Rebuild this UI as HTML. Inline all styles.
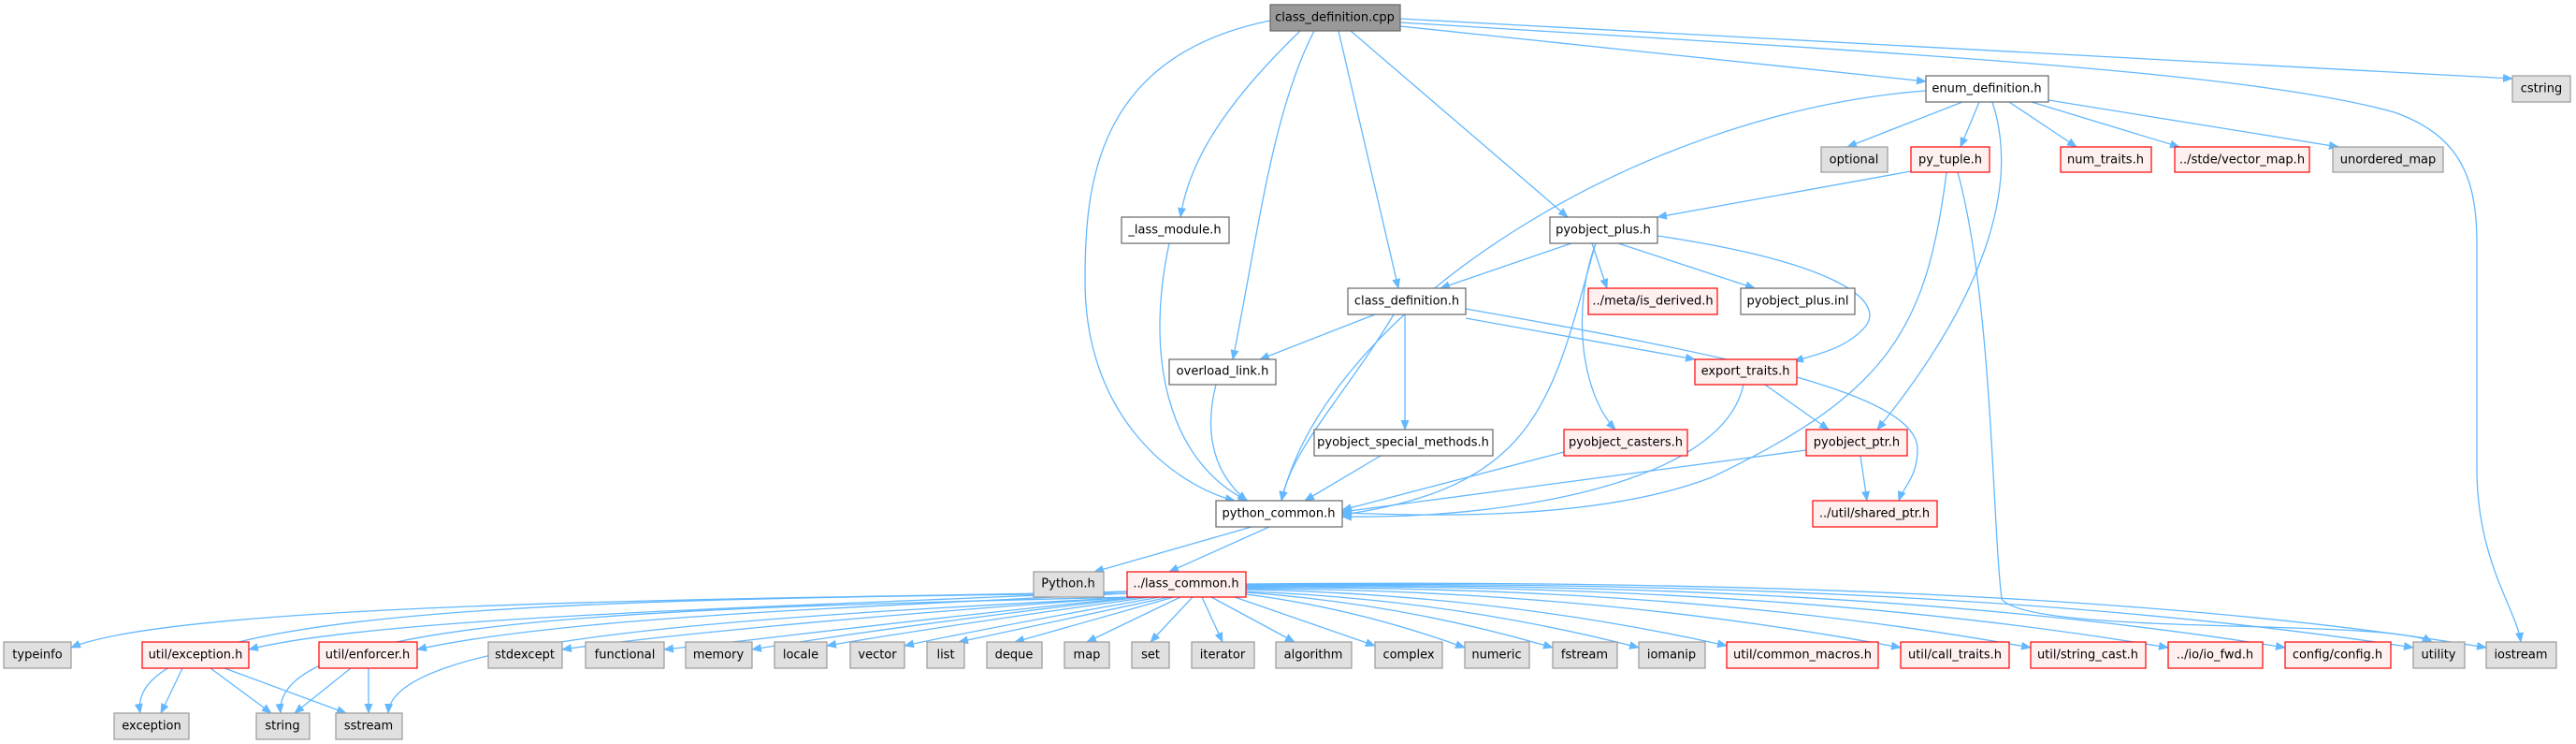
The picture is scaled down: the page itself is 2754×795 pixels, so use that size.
<!DOCTYPE html>
<html><head><meta charset="utf-8"><style>
html,body{margin:0;padding:0;background:#fff;}
svg{display:block;}
text{font-family:"DejaVu Sans","Liberation Sans",sans-serif;font-size:13px;fill:#000;text-anchor:middle;dominant-baseline:central;}
.e{fill:none;stroke:#63b8ff;stroke-width:1.3;marker-end:url(#a);}
.w{fill:#fff;stroke:#666;stroke-width:1.2;}
.g{fill:#e0e0e0;stroke:#999;stroke-width:1.2;}
.r{fill:#fff0f0;stroke:#ff0000;stroke-width:1.2;}
.k{fill:#999;stroke:#666;stroke-width:1.2;}
</style></head><body>
<svg width="2754" height="795" viewBox="0 0 2754 795" xmlns="http://www.w3.org/2000/svg">
<defs><marker id="a" markerWidth="11" markerHeight="9" refX="10" refY="4.5" orient="auto" markerUnits="userSpaceOnUse"><path d="M0,0 L11,4.5 L0,9 z" fill="#63b8ff"/></marker></defs>
<g>
<path class="e" d="M1358,22 C1170,60 1160,200 1160,300 C1160,450 1260,520 1320,535"/>
<path class="e" d="M1390,33 C1300,120 1270,180 1262,232"/>
<path class="e" d="M1405,33 C1360,120 1345,250 1318,384"/>
<path class="e" d="M1431,33 L1495,308"/>
<path class="e" d="M1444,33 L1676,232"/>
<path class="e" d="M1497,28 L2059,87"/>
<path class="e" d="M1497,20 L2686,84"/>
<path class="e" d="M1497,24 C2000,55 2400,75 2560,120 C2630,145 2648,190 2648,260 L2648,500 C2648,600 2690,650 2695,686"/>
<path class="e" d="M2059,97 C1750,120 1420,330 1370,535"/>
<path class="e" d="M2098,109 L1975,157"/>
<path class="e" d="M2116,109 L2096,157"/>
<path class="e" d="M2148,109 L2220,157"/>
<path class="e" d="M2172,109 L2330,157"/>
<path class="e" d="M2190,107 L2500,157"/>
<path class="e" d="M2130,109 C2160,200 2120,320 2007,459"/>
<path class="e" d="M2043,183 L1772,232"/>
<path class="e" d="M2081,184 C2060,350 2020,420 1830,510 C1700,560 1500,550 1435,548"/>
<path class="e" d="M2093,184 C2130,320 2130,560 2140,640 C2170,680 2550,660 2600,686"/>
<path class="e" d="M1680,260 L1540,308"/>
<path class="e" d="M1702,260 L1718,308"/>
<path class="e" d="M1730,260 L1876,308"/>
<path class="e" d="M1772,252 C1960,280 2015,320 1995,348 C1975,372 1945,378 1918,386"/>
<path class="e" d="M1706,260 C1680,330 1690,420 1727,459"/>
<path class="e" d="M1706,260 C1660,420 1650,520 1435,550"/>
<path class="e" d="M1250,260 C1220,400 1260,500 1334,535"/>
<path class="e" d="M1470,336 L1347,384"/>
<path class="e" d="M1490,336 C1440,420 1380,480 1370,535"/>
<path class="e" d="M1502,336 L1502,459"/>
<path class="e" d="M1567,340 L1812,384"/>
<path class="e" d="M1567,330 C1850,380 2050,420 2050,480 C2050,510 2035,520 2030,535"/>
<path class="e" d="M1300,411 C1290,450 1290,500 1333,535"/>
<path class="e" d="M1864,411 C1840,520 1600,555 1435,552"/>
<path class="e" d="M1887,411 L1955,459"/>
<path class="e" d="M1476,487 L1395,535"/>
<path class="e" d="M1672,483 L1435,545"/>
<path class="e" d="M1931,481 L1435,547"/>
<path class="e" d="M1989,487 L1996,535"/>
<path class="e" d="M1338,563 L1170,611"/>
<path class="e" d="M1357,563 L1250,611"/>
<path class="e" d="M1205,632 C900,640 200,640 76,692"/>
<path class="e" d="M1205,634 C600,640 130,650 150,762"/>
<path class="e" d="M1205,632 C800,650 400,660 266,694"/>
<path class="e" d="M1205,634 C900,650 600,660 446,694"/>
<path class="e" d="M1210,638 C700,650 290,660 300,762"/>
<path class="e" d="M1215,638 C800,660 420,680 415,762"/>
<path class="e" d="M1210,638 C900,660 700,680 601,694"/>
<path class="e" d="M1215,638 C950,665 800,685 710,694"/>
<path class="e" d="M1220,638 Q950,670 804,694"/>
<path class="e" d="M1230,638 Q1000,670 884,690"/>
<path class="e" d="M1240,638 Q1060,670 967,690"/>
<path class="e" d="M1250,638 L1025,686"/>
<path class="e" d="M1255,638 L1085,686"/>
<path class="e" d="M1262,638 L1162,686"/>
<path class="e" d="M1275,638 L1230,686"/>
<path class="e" d="M1285,638 L1307,686"/>
<path class="e" d="M1295,638 L1384,686"/>
<path class="e" d="M1320,638 L1470,690"/>
<path class="e" d="M1332,635 Q1450,650 1566,692"/>
<path class="e" d="M1332,633 Q1500,645 1660,692"/>
<path class="e" d="M1332,632 Q1550,640 1752,692"/>
<path class="e" d="M1332,630 Q1600,635 1846,690"/>
<path class="e" d="M1332,629 Q1700,630 2032,692"/>
<path class="e" d="M1332,628 Q1800,625 2171,692"/>
<path class="e" d="M1332,627 Q1900,622 2318,692"/>
<path class="e" d="M1332,626 Q2000,620 2443,692"/>
<path class="e" d="M1332,625 Q2100,618 2580,692"/>
<path class="e" d="M1332,624 Q2200,616 2658,692"/>
<path class="e" d="M195,714 L172,762"/>
<path class="e" d="M225,714 L290,762"/>
<path class="e" d="M240,714 L370,762"/>
<path class="e" d="M375,714 L315,762"/>
<path class="e" d="M394,714 L394,762"/>
</g>
<g>
<rect class="k" x="1358" y="5" width="139" height="28"/><text x="1427" y="19">class_definition.cpp</text>
<rect class="w" x="2059" y="81" width="131" height="28"/><text x="2124" y="95">enum_definition.h</text>
<rect class="g" x="2686" y="81" width="62" height="28"/><text x="2717" y="95">cstring</text>
<rect class="g" x="1947" y="157" width="71" height="27"/><text x="1982" y="171">optional</text>
<rect class="r" x="2043" y="157" width="84" height="27"/><text x="2085" y="171">py_tuple.h</text>
<rect class="r" x="2203" y="157" width="97" height="27"/><text x="2251" y="171">num_traits.h</text>
<rect class="r" x="2325" y="157" width="144" height="27"/><text x="2397" y="171">../stde/vector_map.h</text>
<rect class="g" x="2494" y="157" width="118" height="27"/><text x="2553" y="171">unordered_map</text>
<rect class="w" x="1199" y="232" width="115" height="28"/><text x="1256" y="246">_lass_module.h</text>
<rect class="w" x="1657" y="232" width="115" height="28"/><text x="1714" y="246">pyobject_plus.h</text>
<rect class="w" x="1441" y="308" width="126" height="28"/><text x="1504" y="322">class_definition.h</text>
<rect class="r" x="1698" y="308" width="138" height="28"/><text x="1767" y="322">../meta/is_derived.h</text>
<rect class="w" x="1861" y="308" width="122" height="28"/><text x="1922" y="322">pyobject_plus.inl</text>
<rect class="w" x="1250" y="384" width="114" height="27"/><text x="1307" y="397">overload_link.h</text>
<rect class="r" x="1812" y="384" width="109" height="27"/><text x="1866" y="397">export_traits.h</text>
<rect class="w" x="1405" y="459" width="191" height="28"/><text x="1500" y="473">pyobject_special_methods.h</text>
<rect class="r" x="1672" y="459" width="132" height="28"/><text x="1738" y="473">pyobject_casters.h</text>
<rect class="r" x="1931" y="459" width="108" height="28"/><text x="1985" y="473">pyobject_ptr.h</text>
<rect class="w" x="1300" y="535" width="135" height="28"/><text x="1367" y="549">python_common.h</text>
<rect class="r" x="1938" y="535" width="133" height="28"/><text x="2004" y="549">../util/shared_ptr.h</text>
<rect class="g" x="1105" y="611" width="75" height="27"/><text x="1142" y="624">Python.h</text>
<rect class="r" x="1205" y="611" width="127" height="27"/><text x="1268" y="624">../lass_common.h</text>
<rect class="g" x="4" y="686" width="72" height="28"/><text x="40" y="700">typeinfo</text>
<rect class="r" x="152" y="686" width="114" height="28"/><text x="209" y="700">util/exception.h</text>
<rect class="r" x="341" y="686" width="105" height="28"/><text x="393" y="700">util/enforcer.h</text>
<rect class="g" x="522" y="686" width="79" height="28"/><text x="561" y="700">stdexcept</text>
<rect class="g" x="626" y="686" width="84" height="28"/><text x="668" y="700">functional</text>
<rect class="g" x="733" y="686" width="71" height="28"/><text x="768" y="700">memory</text>
<rect class="g" x="828" y="686" width="56" height="28"/><text x="856" y="700">locale</text>
<rect class="g" x="909" y="686" width="58" height="28"/><text x="938" y="700">vector</text>
<rect class="g" x="991" y="686" width="40" height="28"/><text x="1011" y="700">list</text>
<rect class="g" x="1055" y="686" width="59" height="28"/><text x="1084" y="700">deque</text>
<rect class="g" x="1138" y="686" width="48" height="28"/><text x="1162" y="700">map</text>
<rect class="g" x="1210" y="686" width="40" height="28"/><text x="1230" y="700">set</text>
<rect class="g" x="1274" y="686" width="67" height="28"/><text x="1307" y="700">iterator</text>
<rect class="g" x="1364" y="686" width="81" height="28"/><text x="1404" y="700">algorithm</text>
<rect class="g" x="1470" y="686" width="72" height="28"/><text x="1506" y="700">complex</text>
<rect class="g" x="1566" y="686" width="69" height="28"/><text x="1600" y="700">numeric</text>
<rect class="g" x="1660" y="686" width="69" height="28"/><text x="1694" y="700">fstream</text>
<rect class="g" x="1752" y="686" width="71" height="28"/><text x="1787" y="700">iomanip</text>
<rect class="r" x="1846" y="686" width="162" height="28"/><text x="1927" y="700">util/common_macros.h</text>
<rect class="r" x="2032" y="686" width="116" height="28"/><text x="2090" y="700">util/call_traits.h</text>
<rect class="r" x="2171" y="686" width="123" height="28"/><text x="2232" y="700">util/string_cast.h</text>
<rect class="r" x="2318" y="686" width="101" height="28"/><text x="2368" y="700">../io/io_fwd.h</text>
<rect class="r" x="2443" y="686" width="113" height="28"/><text x="2499" y="700">config/config.h</text>
<rect class="g" x="2580" y="686" width="55" height="28"/><text x="2607" y="700">utility</text>
<rect class="g" x="2658" y="686" width="75" height="28"/><text x="2695" y="700">iostream</text>
<rect class="g" x="122" y="762" width="80" height="28"/><text x="162" y="776">exception</text>
<rect class="g" x="274" y="762" width="57" height="28"/><text x="302" y="776">string</text>
<rect class="g" x="359" y="762" width="71" height="28"/><text x="394" y="776">sstream</text>
</g>
</svg>
</body></html>
